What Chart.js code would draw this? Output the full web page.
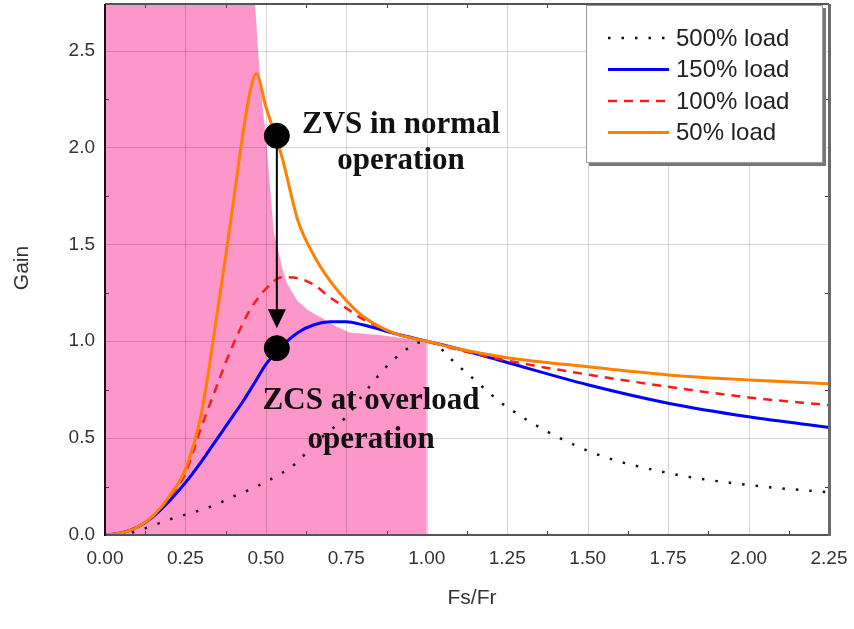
<!DOCTYPE html>
<html>
<head>
<meta charset="utf-8">
<script src="https://cdn.jsdelivr.net/npm/chart.js@4/dist/chart.umd.min.js"></script>
<style>
  html, body { margin: 0; padding: 0; background: #ffffff; }
  canvas { display: block; }
</style>
</head>
<body>
<canvas id="gainChart" width="854" height="629"></canvas>
<script>
// Normalised switching frequency Fs/Fr shared by the four load curves
const fsRatio = [0, 0.05, 0.1, 0.15, 0.2, 0.25, 0.3, 0.35, 0.375, 0.4, 0.425, 0.45, 0.47, 0.5, 0.55, 0.6, 0.65, 0.7, 0.75, 0.8, 0.9, 1.0, 1.1, 1.25, 1.5, 1.75, 2.0, 2.25];

// Voltage gain for each load level
const gain500 = [0, 0.003, 0.02, 0.05, 0.08, 0.105, 0.13, 0.16, 0.18, 0.20, 0.215, 0.235, 0.25, 0.275, 0.32, 0.38, 0.47, 0.54, 0.61, 0.72, 0.91, 1.0, 0.87, 0.66, 0.435, 0.32, 0.258, 0.22];
const gain150 = [0, 0.01, 0.04, 0.095, 0.175, 0.27, 0.38, 0.50, 0.56, 0.62, 0.68, 0.745, 0.80, 0.88, 0.975, 1.045, 1.085, 1.10, 1.10, 1.085, 1.04, 1.0, 0.96, 0.89, 0.775, 0.68, 0.61, 0.555];
const gain100 = [0, 0.01, 0.04, 0.10, 0.19, 0.32, 0.56, 0.78, 0.89, 0.99, 1.08, 1.16, 1.21, 1.27, 1.33, 1.325, 1.29, 1.225, 1.17, 1.115, 1.04, 1.0, 0.955, 0.90, 0.828, 0.765, 0.71, 0.67];
const gain50  = [0, 0.01, 0.04, 0.10, 0.20, 0.34, 0.63, 1.16, 1.44, 1.73, 2.03, 2.28, 2.38, 2.21, 1.95, 1.62, 1.44, 1.31, 1.21, 1.13, 1.04, 1.0, 0.96, 0.915, 0.868, 0.826, 0.80, 0.78];

// Boundary of the capacitive (ZCS) region
const zoneX = [0, 0.466, 0.47, 0.476, 0.488, 0.503, 0.516, 0.525, 0.538, 0.55, 0.565, 0.597, 0.631, 0.674, 0.72, 0.76, 0.864, 0.97, 1.0, 1.0];
const zoneY = [2.74, 2.74, 2.65, 2.49, 2.24, 2.0, 1.73, 1.556, 1.47, 1.38, 1.30, 1.21, 1.16, 1.12, 1.075, 1.045, 1.03, 1.005, 1.0, 0];

// Axis ticks
const xTicks = [0, 0.25, 0.5, 0.75, 1.0, 1.25, 1.5, 1.75, 2.0, 2.25];
const yTicks = [0, 0.5, 1.0, 1.5, 2.0, 2.5];
const yTop = 2.74;

// Operating points and the move between them
const zvsPoint = [{ x: 0.534, y: 2.06 }];
const zcsPoint = [{ x: 0.534, y: 0.964 }];
const arrowTipY = 1.067;

// Annotation lines (centre x, baseline y in data units)
const noteText = ['ZVS in normal', 'operation', 'ZCS at overload', 'operation'];
const noteX = [0.92, 0.92, 0.827, 0.827];
const noteY = [2.072, 1.887, 0.649, 0.448];

const pts = (xs, ys) => xs.map((x, i) => ({ x: x, y: ys[i] }));

const SANS = '"Liberation Sans", Arial, sans-serif';
const SERIF = '"Liberation Serif", "Times New Roman", serif';

const framePlugin = {
  id: 'frame',
  afterDatasetDraw(chart, args) {
    // grid goes right above the shaded region, below the curves
    if (chart.data.datasets[args.index].isZone !== true) return;
    const { ctx, chartArea: a, scales: { x, y } } = chart;
    ctx.save();
    ctx.strokeStyle = 'rgba(0,0,0,0.16)';
    ctx.lineWidth = 1;
    ctx.beginPath();
    xTicks.forEach(v => { const px = Math.round(x.getPixelForValue(v)) + 0.5; ctx.moveTo(px, a.top); ctx.lineTo(px, a.bottom); });
    yTicks.forEach(v => { const py = Math.round(y.getPixelForValue(v)) + 0.5; ctx.moveTo(a.left, py); ctx.lineTo(a.right, py); });
    ctx.stroke();
    ctx.restore();
  },
  afterDatasetsDraw(chart) {
    const { ctx, chartArea: a, scales: { x, y } } = chart;
    ctx.save();
    // minor ticks on all four sides
    ctx.strokeStyle = '#444';
    ctx.lineWidth = 1;
    ctx.beginPath();
    for (let v = 0.125; v < 2.25; v += 0.25) {
      const px = Math.round(x.getPixelForValue(v)) + 0.5;
      ctx.moveTo(px, a.bottom); ctx.lineTo(px, a.bottom - 4);
      ctx.moveTo(px, a.top); ctx.lineTo(px, a.top + 4);
    }
    for (let v = 0.25; v < yTop; v += 0.5) {
      const py = Math.round(y.getPixelForValue(v)) + 0.5;
      ctx.moveTo(a.left, py); ctx.lineTo(a.left + 4, py);
      ctx.moveTo(a.right, py); ctx.lineTo(a.right - 4, py);
    }
    ctx.stroke();
    // frame
    ctx.lineWidth = 2;
    ctx.strokeStyle = '#555';
    ctx.beginPath();
    ctx.moveTo(a.left, a.top); ctx.lineTo(a.right, a.top);
    ctx.moveTo(a.left, a.bottom); ctx.lineTo(a.right + 1, a.bottom);
    ctx.stroke();
    ctx.lineWidth = 3;
    ctx.strokeStyle = '#6a6a6a';
    ctx.beginPath();
    ctx.moveTo(a.right + 0.5, a.top); ctx.lineTo(a.right + 0.5, a.bottom + 1);
    ctx.stroke();
    ctx.lineWidth = 2;
    ctx.strokeStyle = '#111';
    ctx.beginPath();
    ctx.moveTo(a.left, a.top); ctx.lineTo(a.left, a.bottom + 1);
    ctx.stroke();

    // arrow from the ZVS point down to the ZCS point
    const ax = x.getPixelForValue(zvsPoint[0].x);
    const ay0 = y.getPixelForValue(zvsPoint[0].y);
    const tip = y.getPixelForValue(arrowTipY);
    ctx.strokeStyle = '#000';
    ctx.fillStyle = '#000';
    ctx.lineWidth = 2;
    ctx.beginPath();
    ctx.moveTo(ax, ay0); ctx.lineTo(ax, tip - 10);
    ctx.stroke();
    ctx.beginPath();
    ctx.moveTo(ax, tip); ctx.lineTo(ax - 9, tip - 19); ctx.lineTo(ax + 9, tip - 19); ctx.closePath();
    ctx.fill();

    // annotation text
    ctx.font = 'bold 31px ' + SERIF;
    ctx.fillStyle = '#111';
    ctx.textAlign = 'center';
    ctx.textBaseline = 'alphabetic';
    noteText.forEach((t, i) => ctx.fillText(t, x.getPixelForValue(noteX[i]), y.getPixelForValue(noteY[i])));

    // legend
    const items = chart.data.datasets.filter(d => d.inLegend);
    const bw = 237, bh = 158;
    const bx = a.right - 243, by = a.top + 1;
    ctx.fillStyle = '#777';
    ctx.fillRect(bx + 3, by + 3, bw, bh);
    ctx.fillStyle = '#fff';
    ctx.fillRect(bx, by, bw, bh);
    ctx.strokeStyle = '#9a9a9a';
    ctx.lineWidth = 1;
    ctx.strokeRect(bx + 0.5, by + 0.5, bw - 1, bh - 1);
    ctx.font = '24px ' + SANS;
    ctx.textAlign = 'left';
    ctx.textBaseline = 'middle';
    items.forEach((d, i) => {
      const ry = by + 33 + i * 31.5;
      ctx.save();
      ctx.strokeStyle = d.borderColor;
      ctx.lineWidth = d.borderWidth;
      ctx.setLineDash(d.borderDash || []);
      ctx.beginPath();
      ctx.moveTo(bx + 22, ry); ctx.lineTo(bx + 83, ry);
      ctx.stroke();
      ctx.restore();
      ctx.fillStyle = '#222';
      ctx.fillText(d.label, bx + 90, ry + 1);
    });

    // axis titles
    ctx.fillStyle = '#333';
    ctx.font = '21px ' + SANS;
    ctx.textAlign = 'center';
    ctx.textBaseline = 'middle';
    ctx.fillText('Fs/Fr', (a.left + a.right) / 2 + 5, a.bottom + 63);
    ctx.save();
    ctx.translate(22, 268);
    ctx.rotate(-Math.PI / 2);
    ctx.fillText('Gain', 0, 0);
    ctx.restore();
    ctx.restore();
  }
};

new Chart(document.getElementById('gainChart'), {
  type: 'line',
  data: {
    datasets: [
      { label: '500% load', inLegend: true, data: pts(fsRatio, gain500), borderColor: '#111', borderWidth: 2.5, borderDash: [2.5, 11], order: 4 },
      { label: '150% load', inLegend: true, data: pts(fsRatio, gain150), borderColor: '#0000ff', borderWidth: 3, order: 3 },
      { label: '100% load', inLegend: true, data: pts(fsRatio, gain100), borderColor: '#ff1a1a', borderWidth: 2.5, borderDash: [9, 7], order: 2 },
      { label: '50% load', inLegend: true, data: pts(fsRatio, gain50), borderColor: '#ff8000', borderWidth: 3, order: 1 },
      { label: 'ZCS region', isZone: true, data: pts(zoneX, zoneY), borderColor: 'rgba(0,0,0,0)', borderWidth: 0, backgroundColor: '#fd96c9', fill: 'origin', tension: 0, cubicInterpolationMode: 'default', order: 10 },
      { label: 'ZVS', data: zvsPoint, showLine: false, pointRadius: 12.5, pointBackgroundColor: '#000', pointBorderColor: '#000', order: 0 },
      { label: 'ZCS', data: zcsPoint, showLine: false, pointRadius: 12.5, pointBackgroundColor: '#000', pointBorderColor: '#000', order: 0 }
    ]
  },
  options: {
    responsive: false,
    animation: false,
    events: [],
    layout: { autoPadding: false, padding: { left: 0, right: 25, top: 4, bottom: 0 } },
    elements: {
      point: { radius: 0 },
      line: { cubicInterpolationMode: 'monotone', fill: false, borderCapStyle: 'butt' }
    },
    plugins: { legend: { display: false }, tooltip: { enabled: false } },
    scales: {
      x: {
        type: 'linear', min: 0, max: 2.25,
        grid: { display: false, drawTicks: false },
        border: { display: false },
        afterFit(s) { s.height = 94; s.paddingLeft = 0; s.paddingRight = 0; },
        afterBuildTicks(s) { s.ticks = xTicks.map(v => ({ value: v })); },
        ticks: { padding: 12, color: '#333', font: { family: SANS, size: 19 }, callback: v => Number(v).toFixed(2), maxRotation: 0 }
      },
      y: {
        type: 'linear', min: 0, max: yTop,
        grid: { display: false, drawTicks: false },
        border: { display: false },
        afterFit(s) { s.width = 105; s.paddingTop = 0; s.paddingBottom = 0; },
        afterBuildTicks(s) { s.ticks = yTicks.map(v => ({ value: v })); },
        ticks: { padding: 10, color: '#333', autoSkip: false, font: { family: SANS, size: 19 }, callback: v => Number(v).toFixed(1) }
      }
    }
  },
  plugins: [framePlugin]
});
</script>
</body>
</html>
